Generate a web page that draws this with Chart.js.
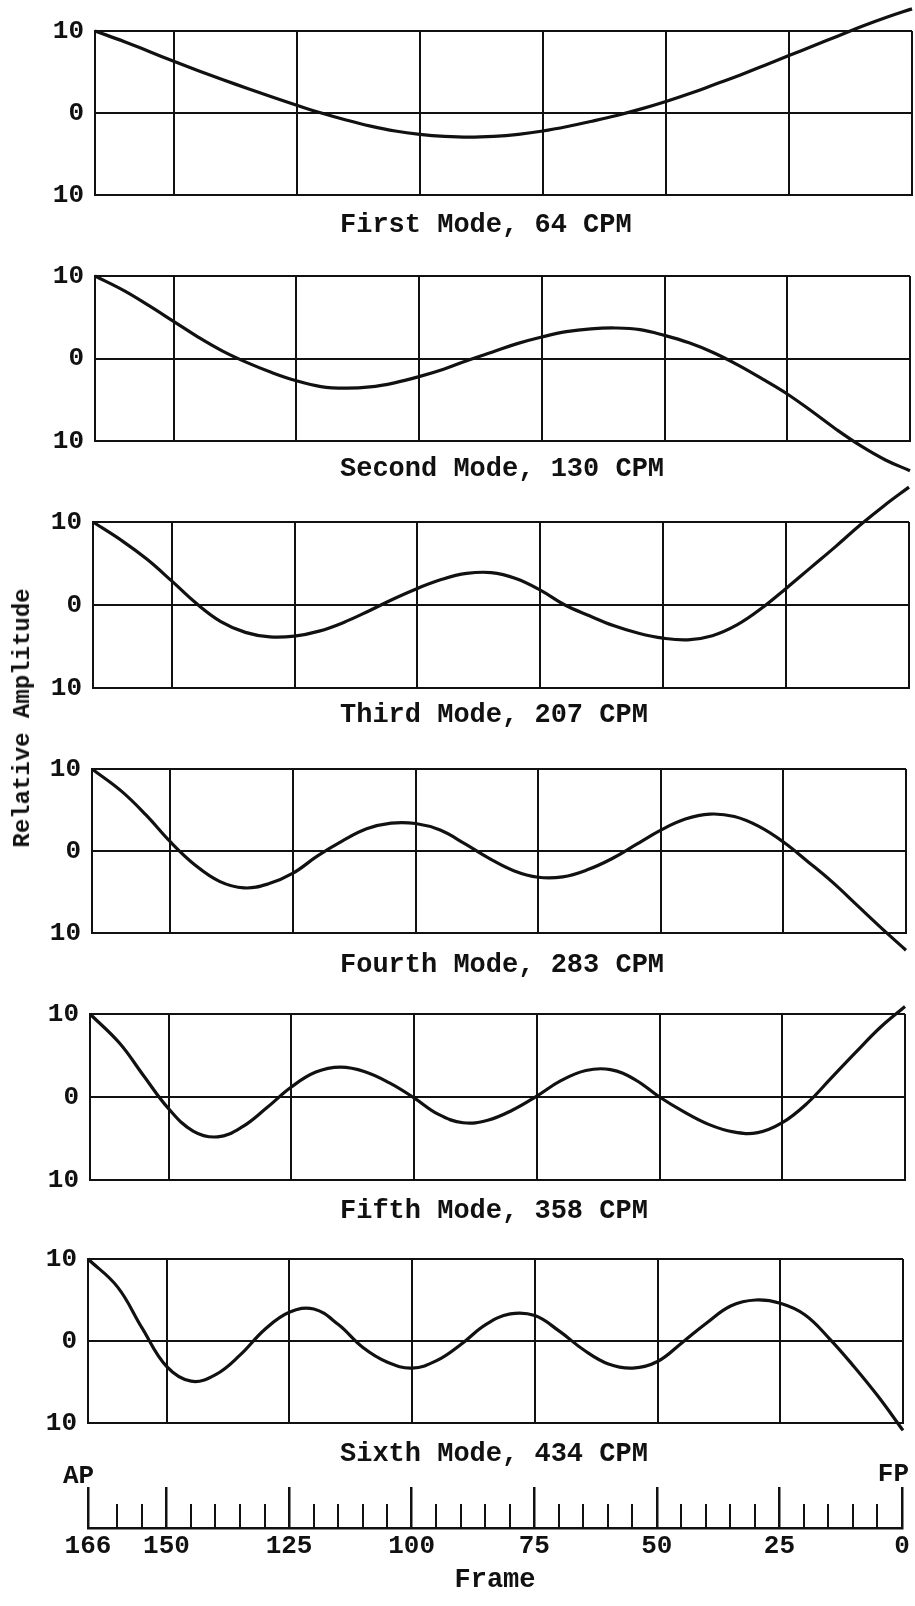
<!DOCTYPE html>
<html>
<head>
<meta charset="utf-8">
<title>Hull vibration modes</title>
<script src="https://cdn.jsdelivr.net/npm/chart.js@4.4.1/dist/chart.umd.min.js"></script>
<style>
  html, body { margin: 0; padding: 0; background: #fff; }
  #page { position: relative; width: 915px; height: 1606px; overflow: hidden; background: #fff; }
  #page canvas { position: absolute; left: 0; }
  .txt { position: absolute; font-family: 'Liberation Mono', 'Courier New', monospace; color: #111; white-space: pre; }
</style>
</head>
<body>
<div id="page"></div>
<script>
// frame stations the curves were read at (AP = 166 ... FP = 0)
const frames = [166, 160, 155, 150, 145, 140, 135, 130, 125, 120, 115, 110, 105, 100, 95, 90, 85,
                80, 75, 70, 65, 60, 55, 50, 45, 40, 35, 30, 25, 20, 15, 10, 5, 0];

const mode1 = [10, 8.7, 7.5, 6.3, 5.15, 4.05, 3.0, 1.95, 0.95, 0.0, -0.85, -1.6, -2.2, -2.6, -2.85, -2.95, -2.85,
               -2.6, -2.2, -1.65, -1.0, -0.3, 0.5, 1.4, 2.4, 3.5, 4.6, 5.8, 7.0, 8.2, 9.4, 10.6, 11.7, 12.7];
const mode2 = [10, 8.2, 6.4, 4.5, 2.6, 0.9, -0.5, -1.7, -2.7, -3.4, -3.6, -3.45, -2.95, -2.2, -1.3, -0.2, 0.8,
               1.8, 2.6, 3.25, 3.6, 3.7, 3.5, 2.8, 1.9, 0.7, -0.8, -2.5, -4.3, -6.4, -8.6, -10.6, -12.3, -13.6];
const mode3 = [10, 7.7, 5.5, 2.9, 0.2, -2.0, -3.3, -3.85, -3.75, -3.15, -2.1, -0.75, 0.7, 2.0, 3.1, 3.8, 3.9,
               3.2, 1.8, 0.0, -1.3, -2.5, -3.4, -4.0, -4.2, -3.7, -2.4, -0.4, 2.0, 4.5, 7.0, 9.6, 12.0, 14.2];
const mode4 = [10, 7.3, 4.4, 1.1, -1.7, -3.7, -4.5, -4.0, -2.7, -0.6, 1.2, 2.7, 3.4, 3.35, 2.55, 0.9, -0.9,
               -2.4, -3.2, -3.15, -2.3, -0.95, 0.8, 2.55, 3.9, 4.5, 4.2, 3.0, 1.1, -1.3, -3.8, -6.6, -9.4, -12.1];
const mode5 = [10, 6.5, 2.5, -1.4, -4.1, -4.8, -3.6, -1.3, 1.2, 3.0, 3.6, 3.05, 1.7, -0.1, -2.1, -3.1, -2.8,
               -1.6, 0.1, 2.0, 3.2, 3.3, 2.1, 0.0, -1.8, -3.3, -4.2, -4.3, -3.1, -0.8, 2.3, 5.4, 8.4, 10.9];
const mode6 = [10, 6.6, 1.6, -3.1, -4.9, -4.1, -1.7, 1.4, 3.5, 3.9, 2.0, -0.8, -2.6, -3.3, -2.4, -0.4, 2.0,
               3.3, 3.1, 1.2, -1.1, -2.8, -3.3, -2.5, -0.2, 2.2, 4.3, 5.0, 4.6, 3.2, 0.3, -3.1, -6.8, -10.9];

const modes = [mode1, mode2, mode3, mode4, mode5, mode6];
const modeNames = ['First', 'Second', 'Third', 'Fourth', 'Fifth', 'Sixth'];
const modeCpm = [64, 130, 207, 283, 358, 434];

const frameTicks = [166, 150, 125, 100, 75, 50, 25, 0];
const minorFrameTicks = [160, 155, 145, 140, 135, 130, 120, 115, 110, 105, 95, 90, 85, 80,
                         70, 65, 60, 55, 45, 40, 35, 30, 20, 15, 10, 5];
const ampTicks = [-10, 0, 10];

const INK = '#111';
const FONT = "'Liberation Mono', 'Courier New', monospace";
const W = 915;
const AXIS_W = 60;
const page = document.getElementById('page');

// box of each panel on the page (the scan drifts a little to the left going down)
const boxes = [
  { top: 31,   bottom: 195,  left: 95, right: 912, cap: 224 },
  { top: 276,  bottom: 441,  left: 95, right: 910, cap: 468 },
  { top: 522,  bottom: 688,  left: 93, right: 909, cap: 714 },
  { top: 769,  bottom: 933,  left: 92, right: 906, cap: 964 },
  { top: 1014, bottom: 1180, left: 90, right: 905, cap: 1210 },
  { top: 1259, bottom: 1423, left: 88, right: 903, cap: 1453 }
];
const axisBox = { left: 88, right: 902, top: 1487, minorTop: 1504, base: 1528 };

function addCanvas(top, height) {
  const c = document.createElement('canvas');
  c.width = W;
  c.height = height;
  c.style.top = top + 'px';
  page.appendChild(c);
  return c;
}

// size = font px; y = middle of the capitals
function addText(text, x, y, size, weight, align) {
  const d = document.createElement('div');
  d.className = 'txt';
  d.textContent = text;
  d.style.fontSize = size + 'px';
  d.style.lineHeight = size + 'px';
  d.style.fontWeight = weight;
  d.style.top = (y - 0.437 * size) + 'px';
  d.style.left = x + 'px';
  if (align === 'right') d.style.transform = 'translateX(-100%)';
  if (align === 'center') d.style.transform = 'translateX(-50%)';
  page.appendChild(d);
  return d;
}

const noPlugins = { legend: { display: false }, tooltip: { enabled: false } };

function drawPanel(i) {
  const b = boxes[i];
  const pad = 45;
  const canvas = addCanvas(b.top - pad, b.bottom - b.top + 2 * pad);
  new Chart(canvas, {
    type: 'line',
    data: {
      datasets: [{
        data: frames.map((f, k) => ({ x: f, y: modes[i][k] })),
        borderColor: INK,
        borderWidth: 3.2,
        pointRadius: 0,
        tension: 0.4,
        clip: false
      }]
    },
    options: {
      responsive: false,
      animation: false,
      layout: { autoPadding: false, padding: { top: pad, bottom: pad, left: b.left - AXIS_W, right: W - b.right } },
      plugins: noPlugins,
      scales: {
        x: {
          type: 'linear', reverse: true, min: 0, max: 166,
          afterBuildTicks: s => { s.ticks = frameTicks.map(v => ({ value: v })); },
          afterFit: s => { s.height = 0; },
          ticks: { display: false },
          grid: { color: INK, lineWidth: 2, drawTicks: false },
          border: { color: INK, width: 2 }
        },
        y: {
          min: -10, max: 10,
          afterBuildTicks: s => { s.ticks = ampTicks.map(v => ({ value: v })); },
          afterFit: s => { s.width = AXIS_W; },
          ticks: {
            color: INK, padding: 11,
            font: { family: FONT, size: 26, weight: 'bold' },
            callback: v => String(Math.abs(v))
          },
          grid: { color: INK, lineWidth: 2, drawTicks: false },
          border: { color: INK, width: 2 }
        }
      }
    }
  });
  addText(modeNames[i] + ' Mode, ' + modeCpm[i] + ' CPM', 340, b.cap, 27, 'bold');
}

function drawFrameAxis() {
  const top = 1440, h = 166, axisH = 70;
  const canvas = addCanvas(top, h);
  new Chart(canvas, {
    type: 'line',
    data: { datasets: [] },
    options: {
      responsive: false,
      animation: false,
      layout: { autoPadding: false, padding: { top: axisBox.top - top, bottom: top + h - axisBox.base - axisH, left: axisBox.left, right: W - axisBox.right } },
      plugins: noPlugins,
      scales: {
        x: {
          type: 'linear', reverse: true, min: 0, max: 166,
          afterBuildTicks: s => { s.ticks = frameTicks.map(v => ({ value: v })); },
          afterFit: s => { s.height = axisH; },
          ticks: { color: INK, padding: 3, autoSkip: false, maxRotation: 0, font: { family: FONT, size: 26, weight: 'bold' } },
          grid: { color: INK, lineWidth: 2.5, drawTicks: false },
          border: { color: INK, width: 2.5 },
          title: { display: true, text: 'Frame', color: INK, font: { family: FONT, size: 27, weight: 'bold' }, padding: { top: 0, bottom: 2 } }
        },
        y: { display: false, min: 0, max: 1 }
      }
    }
  });

  // short ticks every 5 frames
  const mTop = 1490, mh = 50;
  const minor = addCanvas(mTop, mh);
  new Chart(minor, {
    type: 'line',
    data: { datasets: [] },
    options: {
      responsive: false,
      animation: false,
      layout: { autoPadding: false, padding: { top: axisBox.minorTop - mTop, bottom: mTop + mh - axisBox.base, left: axisBox.left, right: W - axisBox.right } },
      plugins: noPlugins,
      scales: {
        x: {
          type: 'linear', reverse: true, min: 0, max: 166,
          afterBuildTicks: s => { s.ticks = minorFrameTicks.map(v => ({ value: v })); },
          afterFit: s => { s.height = 0; },
          ticks: { display: false },
          grid: { color: INK, lineWidth: 2, drawTicks: false },
          border: { display: false }
        },
        y: { display: false, min: 0, max: 1 }
      }
    }
  });

  addText('AP', 63, 1474, 26, 'bold');
  addText('FP', 909, 1472, 26, 'bold', 'right');
}

modes.forEach((m, i) => drawPanel(i));
drawFrameAxis();

const ylab = addText('Relative Amplitude', 0, 0, 24, 'bold');
ylab.style.left = '22.5px';
ylab.style.top = '718px';
ylab.style.lineHeight = '24px';
ylab.style.transform = 'translate(-50%, -50%) rotate(-90deg)';
</script>
</body>
</html>
